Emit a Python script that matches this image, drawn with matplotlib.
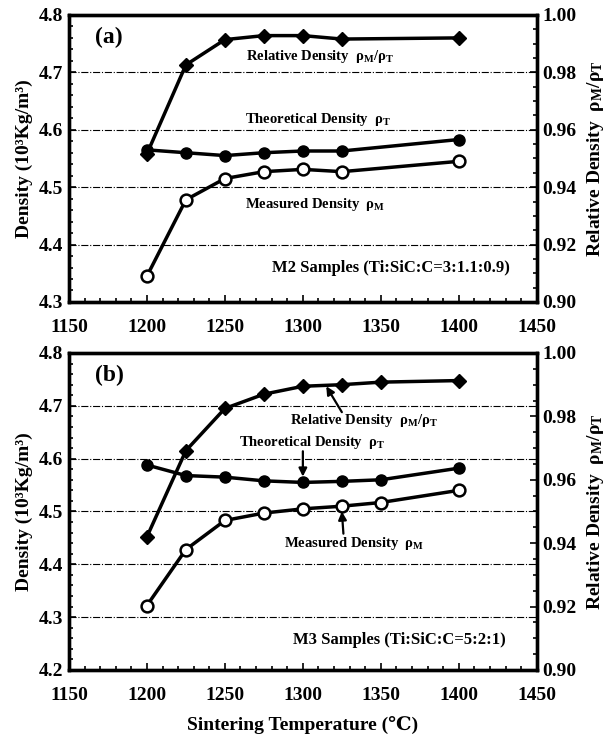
import matplotlib
matplotlib.use('Agg')
import matplotlib.pyplot as plt
from matplotlib.ticker import MultipleLocator

plt.rcParams['font.family'] = ['Liberation Serif', 'DejaVu Serif']
plt.rcParams['font.weight'] = 'bold'
plt.rcParams['axes.labelweight'] = 'bold'
plt.rcParams['mathtext.fontset'] = 'stix'
plt.rcParams['mathtext.default'] = 'regular'

# panel (a): M2 samples
temp_a = [1200, 1225, 1250, 1275, 1300, 1325, 1400]
theo_a = [4.565, 4.560, 4.555, 4.560, 4.563, 4.563, 4.583]
meas_a = [4.345, 4.478, 4.515, 4.527, 4.531, 4.527, 4.545]
rel_a = [0.9516, 0.9826, 0.9914, 0.9928, 0.9928, 0.9916, 0.9920]

# panel (b): M3 samples
temp_b = [1200, 1225, 1250, 1275, 1300, 1325, 1350, 1400]
theo_b = [4.588, 4.568, 4.565, 4.558, 4.555, 4.557, 4.560, 4.582]
meas_b = [4.322, 4.428, 4.483, 4.497, 4.505, 4.510, 4.517, 4.540]
rel_b = [0.9420, 0.9692, 0.9825, 0.9870, 0.9895, 0.9900, 0.9908, 0.9913]

rho_label = r'$\rho_M/\rho_T$'


def style_axes(ax, ax2, ylim):
    ax.set_xlim(1150, 1450)
    ax.set_ylim(*ylim)
    ax2.set_ylim(0.90, 1.00)
    ax.xaxis.set_major_locator(MultipleLocator(50))
    ax.xaxis.set_minor_locator(MultipleLocator(10))
    ax.yaxis.set_major_locator(MultipleLocator(0.1))
    ax.yaxis.set_minor_locator(MultipleLocator(0.02))
    ax2.yaxis.set_major_locator(MultipleLocator(0.02))
    ax2.yaxis.set_minor_locator(MultipleLocator(0.005))
    ax.yaxis.set_major_formatter(lambda v, p: '%.1f' % v)
    ax2.yaxis.set_major_formatter(lambda v, p: '%.2f' % v)
    for a in (ax, ax2):
        a.tick_params(which='both', direction='in', labelsize=14, width=1.2)
        a.tick_params(which='major', length=5)
        a.tick_params(which='minor', length=3)
        for s in a.spines.values():
            s.set_linewidth(2.4)
    ax.tick_params(axis='x', pad=12)
    ax.tick_params(axis='y', pad=4)
    ax2.tick_params(axis='y', pad=4)
    for g in ax.get_yticks()[1:-1]:
        ax.axhline(g, color='black', linestyle='-.', linewidth=0.8, zorder=0)
    ax.set_ylabel('Density (10³Kg/m³)', fontsize=14, labelpad=4)
    ax2.set_ylabel('Relative Density  ' + rho_label, fontsize=14, labelpad=6)


def draw(ax, ax2, temp, theo, meas, rel):
    ax.plot(temp, theo, color='black', linewidth=2.5, marker='o',
            markersize=8, markerfacecolor='black', zorder=3)
    ax.plot(temp, meas, color='black', linewidth=2.5, marker='o',
            markersize=8.5, markerfacecolor='white', markeredgewidth=1.8,
            zorder=3)
    ax2.plot(temp, rel, color='black', linewidth=2.5, marker='D',
             markersize=7, markerfacecolor='black', zorder=3)


def arrow(ax, tail, head):
    ax.annotate('', xy=head, xytext=tail,
                arrowprops=dict(arrowstyle='-|>', color='black', lw=1.6,
                                mutation_scale=12, shrinkA=0, shrinkB=0))


fig = plt.figure(figsize=(6.1, 7.36), dpi=100)

ax_a = fig.add_axes([0.113, 0.5897, 0.767, 0.390])
ax_a2 = ax_a.twinx()
style_axes(ax_a, ax_a2, (4.3, 4.8))
draw(ax_a, ax_a2, temp_a, theo_a, meas_a, rel_a)
ax_a.text(1167, 4.76, '(a)', fontsize=17, va='center')
ax_a.text(1311, 4.727, 'Relative Density  ' + rho_label, fontsize=10.5,
          ha='center', va='center')
ax_a.text(1310, 4.617, 'Theoretical Density  $\\rho_T$', fontsize=10.5,
          ha='center', va='center')
ax_a.text(1308, 4.47, 'Measured Density  $\\rho_M$', fontsize=10.5,
          ha='center', va='center')
ax_a.text(1433, 4.36, 'M2 Samples (Ti:SiC:C=3:1.1:0.9)', fontsize=12,
          ha='right', va='center')

ax_b = fig.add_axes([0.113, 0.0897, 0.767, 0.4307])
ax_b2 = ax_b.twinx()
style_axes(ax_b, ax_b2, (4.2, 4.8))
draw(ax_b, ax_b2, temp_b, theo_b, meas_b, rel_b)
ax_b.text(1167, 4.758, '(b)', fontsize=17, va='center')
ax_b.text(1339, 4.673, 'Relative Density  ' + rho_label, fontsize=10.5,
          ha='center', va='center')
ax_b.text(1306, 4.631, 'Theoretical Density  $\\rho_T$', fontsize=10.5,
          ha='center', va='center')
ax_b.text(1333, 4.44, 'Measured Density  $\\rho_M$', fontsize=10.5,
          ha='center', va='center')
arrow(ax_b, (1325, 4.688), (1315, 4.737))
arrow(ax_b, (1300, 4.614), (1300, 4.566))
arrow(ax_b, (1326, 4.458), (1325, 4.500))
ax_b.text(1430, 4.256, 'M3 Samples (Ti:SiC:C=5:2:1)', fontsize=12,
          ha='right', va='center')
ax_b.set_xlabel('Sintering Temperature (℃)', fontsize=14, labelpad=9)

fig.savefig('out.png', dpi=100)
